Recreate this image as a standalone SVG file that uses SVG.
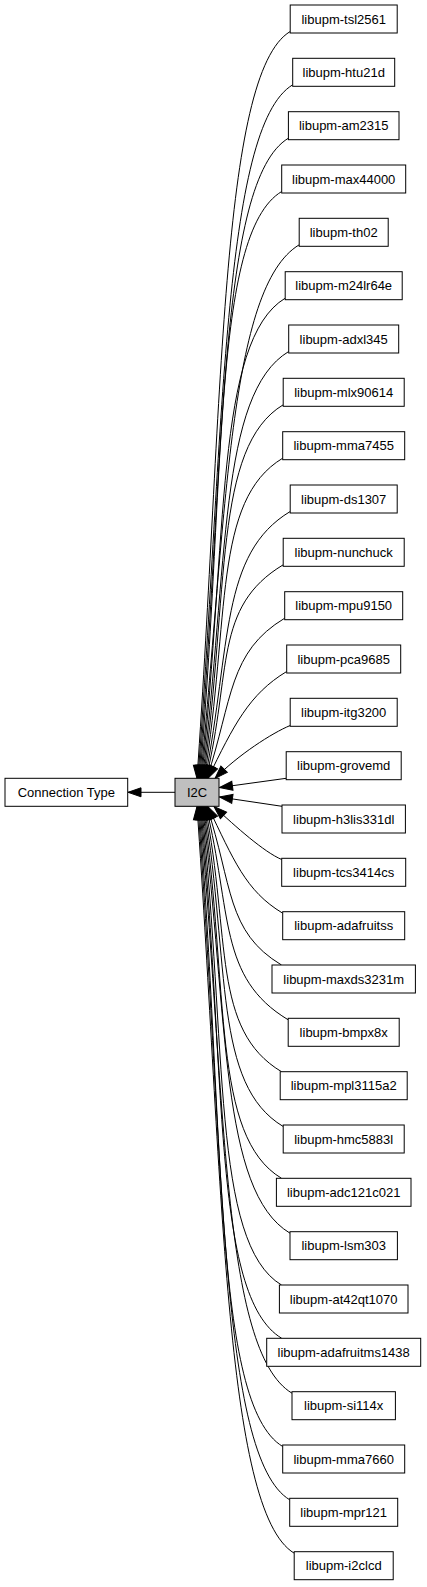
<svg xmlns="http://www.w3.org/2000/svg" width="427" height="1587" viewBox="0 0 427 1587">
<style>
.n rect{fill:#fff;stroke:#000;stroke-width:1}
.n text{font-family:"Liberation Sans",Arial,sans-serif;font-size:13px;fill:#000;text-anchor:middle}
#i2c rect{fill:#bfbfbf}
.e path{fill:none;stroke:#000;stroke-width:1;marker-end:url(#ah)}
</style>
<defs>
<marker id="ah" markerUnits="userSpaceOnUse" markerWidth="14" markerHeight="10" refX="13" refY="4.5" orient="auto" overflow="visible">
<polygon points="0,0 13,4.5 0,9" fill="#000" stroke="#000" stroke-width="1"/>
</marker>
</defs>
<rect width="427" height="1587" fill="#fff"/>
<g id="connectors" class="e">
<path d="M175,792.3 L128,792.3"/>
<path d="M290.2,31.5 C220.2,73.5 223,405 197,778.5"/>
<path d="M292.7,84.8 C222.7,126.8 223.9,431.7 197.9,778.5"/>
<path d="M288.4,138.2 C218.4,180.2 224.8,458.4 198.8,778.5"/>
<path d="M281.7,191.5 C211.7,233.5 225.7,485 199.7,778.5"/>
<path d="M299.2,244.8 C229.2,286.8 226.6,511.7 200.6,778.5"/>
<path d="M285.2,298.2 C215.2,340.2 227.5,538.4 201.5,778.5"/>
<path d="M288.7,351.5 C218.7,393.5 228.4,565 202.4,778.5"/>
<path d="M283.2,404.8 C213.2,446.8 229.3,591.7 203.3,778.5"/>
<path d="M282.7,458.2 C212.7,500.2 230.2,618.4 204.2,778.5"/>
<path d="M290.2,511.5 C220.2,553.5 231.1,645 205.1,778.5"/>
<path d="M283.2,564.8 C213.2,606.8 232,671.7 206,778.5"/>
<path d="M284.7,618.2 C228.6,651.9 232.9,698.4 206.9,778.5"/>
<path d="M286.7,671.5 C249.2,694 233.8,725 207.8,778.5"/>
<path d="M290.2,725.5 C272,733 238,755 215,778.5"/>
<path d="M286.2,778.3 L219.5,787.5"/>
<path d="M282,806.3 L219.5,797"/>
<path d="M281.7,859.5 C264,852 236,827 214,806.5"/>
<path d="M282.7,913.2 C245.4,890.8 233.8,859.9 207.8,806.5"/>
<path d="M281.5,965 C226,931.7 232.9,885.8 206.9,806.5"/>
<path d="M288.2,1019.8 C218.2,977.8 232,913.2 206,806.5"/>
<path d="M281.5,1071.7 C211.5,1029.7 231.1,939.1 205.1,806.5"/>
<path d="M283.2,1126.5 C213.2,1084.5 230.2,966.5 204.2,806.5"/>
<path d="M281.5,1178.3 C211.5,1136.3 229.3,992.4 203.3,806.5"/>
<path d="M290,1233.2 C220,1191.2 228.4,1019.8 202.4,806.5"/>
<path d="M281.5,1285 C211.5,1243 227.5,1045.8 201.5,806.5"/>
<path d="M281.7,1338.3 C211.7,1296.3 226.6,1072.4 200.6,806.5"/>
<path d="M292,1393.2 C222,1351.2 225.7,1099.8 199.7,806.5"/>
<path d="M282.7,1446.5 C212.7,1404.5 224.8,1126.5 198.8,806.5"/>
<path d="M289.7,1499.8 C219.7,1457.8 223.9,1153.2 197.9,806.5"/>
<path d="M294.2,1553.2 C224.2,1511.2 223,1179.8 197,806.5"/>
</g>
<g id="conntype" class="n"><rect x="5" y="778.3" width="122.7" height="28"/><text x="66.3" y="796.8">Connection Type</text></g>
<g id="i2c" class="n"><rect x="175" y="778.3" width="44" height="28"/><text x="197" y="796.8">I2C</text></g>
<g id="tsl2561" class="n"><rect x="290.2" y="5" width="107" height="28"/><text x="343.7" y="23.5">libupm-tsl2561</text></g>
<g id="htu21d" class="n"><rect x="292.7" y="58.3" width="102" height="28"/><text x="343.7" y="76.8">libupm-htu21d</text></g>
<g id="am2315" class="n"><rect x="288.4" y="111.7" width="110.6" height="28"/><text x="343.7" y="130.2">libupm-am2315</text></g>
<g id="max44000" class="n"><rect x="281.7" y="165" width="124" height="28"/><text x="343.7" y="183.5">libupm-max44000</text></g>
<g id="th02" class="n"><rect x="299.2" y="218.3" width="89" height="28"/><text x="343.7" y="236.8">libupm-th02</text></g>
<g id="m24lr64e" class="n"><rect x="285.2" y="271.7" width="117" height="28"/><text x="343.7" y="290.2">libupm-m24lr64e</text></g>
<g id="adxl345" class="n"><rect x="288.7" y="325" width="110" height="28"/><text x="343.7" y="343.5">libupm-adxl345</text></g>
<g id="mlx90614" class="n"><rect x="283.2" y="378.3" width="121" height="28"/><text x="343.7" y="396.8">libupm-mlx90614</text></g>
<g id="mma7455" class="n"><rect x="282.7" y="431.7" width="122" height="28"/><text x="343.7" y="450.2">libupm-mma7455</text></g>
<g id="ds1307" class="n"><rect x="290.2" y="485" width="107" height="28"/><text x="343.7" y="503.5">libupm-ds1307</text></g>
<g id="nunchuck" class="n"><rect x="283.2" y="538.3" width="121" height="28"/><text x="343.7" y="556.8">libupm-nunchuck</text></g>
<g id="mpu9150" class="n"><rect x="284.7" y="591.7" width="118" height="28"/><text x="343.7" y="610.2">libupm-mpu9150</text></g>
<g id="pca9685" class="n"><rect x="286.7" y="645" width="114" height="28"/><text x="343.7" y="663.5">libupm-pca9685</text></g>
<g id="itg3200" class="n"><rect x="290.2" y="698.3" width="107" height="28"/><text x="343.7" y="716.8">libupm-itg3200</text></g>
<g id="grovemd" class="n"><rect x="286.2" y="751.7" width="115" height="28"/><text x="343.7" y="770.2">libupm-grovemd</text></g>
<g id="h3lis331dl" class="n"><rect x="282" y="805" width="123.4" height="28"/><text x="343.7" y="823.5">libupm-h3lis331dl</text></g>
<g id="tcs3414cs" class="n"><rect x="281.7" y="858.3" width="124" height="28"/><text x="343.7" y="876.8">libupm-tcs3414cs</text></g>
<g id="adafruitss" class="n"><rect x="282.7" y="911.7" width="122" height="28"/><text x="343.7" y="930.2">libupm-adafruitss</text></g>
<g id="maxds3231m" class="n"><rect x="272" y="965" width="143.4" height="28"/><text x="343.7" y="983.5">libupm-maxds3231m</text></g>
<g id="bmpx8x" class="n"><rect x="288.2" y="1018.3" width="111" height="28"/><text x="343.7" y="1036.8">libupm-bmpx8x</text></g>
<g id="mpl3115a2" class="n"><rect x="280.2" y="1071.7" width="127" height="28"/><text x="343.7" y="1090.2">libupm-mpl3115a2</text></g>
<g id="hmc5883l" class="n"><rect x="283.2" y="1125" width="121" height="28"/><text x="343.7" y="1143.5">libupm-hmc5883l</text></g>
<g id="adc121c021" class="n"><rect x="276.4" y="1178.3" width="134.6" height="28"/><text x="343.7" y="1196.8">libupm-adc121c021</text></g>
<g id="lsm303" class="n"><rect x="290" y="1231.7" width="107.4" height="28"/><text x="343.7" y="1250.2">libupm-lsm303</text></g>
<g id="at42qt1070" class="n"><rect x="279.4" y="1285" width="128.6" height="28"/><text x="343.7" y="1303.5">libupm-at42qt1070</text></g>
<g id="adafruitms1438" class="n"><rect x="266.7" y="1338.3" width="154" height="28"/><text x="343.7" y="1356.8">libupm-adafruitms1438</text></g>
<g id="si114x" class="n"><rect x="292" y="1391.7" width="103.4" height="28"/><text x="343.7" y="1410.2">libupm-si114x</text></g>
<g id="mma7660" class="n"><rect x="282.7" y="1445" width="122" height="28"/><text x="343.7" y="1463.5">libupm-mma7660</text></g>
<g id="mpr121" class="n"><rect x="289.7" y="1498.3" width="108" height="28"/><text x="343.7" y="1516.8">libupm-mpr121</text></g>
<g id="i2clcd" class="n"><rect x="294.2" y="1551.7" width="99" height="28"/><text x="343.7" y="1570.2">libupm-i2clcd</text></g>
</svg>
